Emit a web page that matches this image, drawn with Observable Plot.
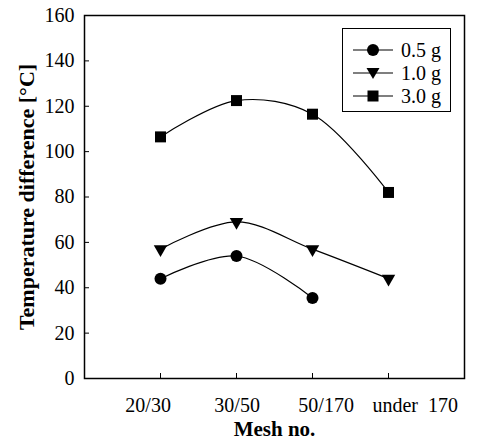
<!DOCTYPE html>
<html>
<head>
<meta charset="utf-8">
<script src="https://cdn.jsdelivr.net/npm/d3@7"></script>
<script src="https://cdn.jsdelivr.net/npm/@observablehq/plot@0.6"></script>
<style>
  html, body { margin: 0; padding: 0; background: #fff; }
  #wrap { position: relative; width: 477px; height: 441px; font-family: "Liberation Serif", "Times New Roman", serif; }
  #wrap svg text { font-family: "Liberation Serif", "Times New Roman", serif; }
  #legend { position: absolute; left: 342px; top: 28px; width: 109px; height: 84px; border: 1px solid #000; background: #fff; box-sizing: border-box; }
  .row { position: absolute; left: 0; height: 20px; display: flex; align-items: center; }
  .row svg { display: block; }
  .row span { font-size: 20px; margin-left: 8px; line-height: 20px; font-family: "Liberation Serif", serif; }
</style>
</head>
<body>
<div id="wrap"></div>
<script>
const categories = ["20/30", "30/50", "50/170", "under  170"];
const series = ["0.5 g", "1.0 g", "3.0 g"];
const values05 = [44, 54, 35.5];
const values10 = [57, 69, 57, 44];
const values30 = [106.5, 122.5, 116.5, 82];
const yTicks = [0, 20, 40, 60, 80, 100, 120, 140, 160];
const symbols = ["circle", "triangle", "square"];

const allValues = [values05, values10, values30];
const rows = [];
allValues.forEach((vals, s) => vals.forEach((v, i) => rows.push({series: series[s], i, v})));

const font = "Liberation Serif";
const lineMarks = series.map((name) =>
  Plot.line(rows.filter(d => d.series === name), {x: "i", y: "v", curve: "catmull-rom", stroke: "#000", strokeWidth: 1.2})
);
const dotMarks = [
  Plot.dot(rows.filter(d => d.series === series[0]), {x: "i", y: "v", symbol: "circle", r: 6, fill: "#000"}),
  Plot.dot(rows.filter(d => d.series === series[1]), {x: "i", y: "v", symbol: "triangle", rotate: 180, r: 5, fill: "#000"}),
  Plot.dot(rows.filter(d => d.series === series[2]), {x: "i", y: "v", symbol: "square", r: 6.2, fill: "#000"})
];
// category labels are spread slightly wider than their ticks in the original
const catLabelMarks = categories.map((c, i) =>
  Plot.text([c], {x: () => i, frameAnchor: "bottom", dy: 27, dx: (i - 0.95) * 13, fontSize: 20, textAnchor: "middle", lineAnchor: "middle"})
);

const chart = Plot.plot({
  width: 477,
  height: 441,
  marginLeft: 84,
  marginRight: 13,
  marginTop: 15,
  marginBottom: 63,
  style: {fontFamily: font, fontSize: "20px", background: "#fff", color: "#000"},
  x: {domain: [-1, 4]},
  y: {domain: [0, 160]},
  marks: [
    Plot.axisY(yTicks, {tickSize: -5, tickPadding: 15, fontSize: 20, label: null, tickFormat: d => String(d)}),
    Plot.axisX(categories.map((c, i) => i), {tickSize: -5, label: null, tickFormat: () => ""}),
    ...catLabelMarks,
    Plot.frame({stroke: "#000", strokeWidth: 1.5}),
    ...lineMarks,
    ...dotMarks,
    Plot.text(["Mesh no."], {frameAnchor: "bottom", dy: 51, fontSize: 21, fontWeight: "bold", textAnchor: "middle", lineAnchor: "middle"}),
    Plot.text(["Temperature difference [°C]"], {frameAnchor: "left", dx: -58, rotate: -90, fontSize: 22, fontWeight: "bold", textAnchor: "middle", lineAnchor: "middle"})
  ]
});
const wrap = document.getElementById("wrap");
wrap.appendChild(chart);

// legend
const legend = document.createElement("div");
legend.id = "legend";
const sym = {
  circle: '<circle cx="20" cy="10" r="6" fill="#000"/>',
  triangle: '<path d="M13.5,5 L26.5,5 L20,16 Z" fill="#000"/>',
  square: '<rect x="14.5" y="4.5" width="11" height="11" fill="#000"/>'
};
series.forEach((name, k) => {
  const row = document.createElement("div");
  row.className = "row";
  row.style.top = (11 + k * 23) + "px";
  row.style.left = "10px";
  row.innerHTML = '<svg width="40" height="20"><line x1="0" y1="10" x2="40" y2="10" stroke="#000" stroke-width="1.2"/>' + sym[symbols[k]] + '</svg><span>' + name + '</span>';
  legend.appendChild(row);
});
wrap.appendChild(legend);
</script>
</body>
</html>
